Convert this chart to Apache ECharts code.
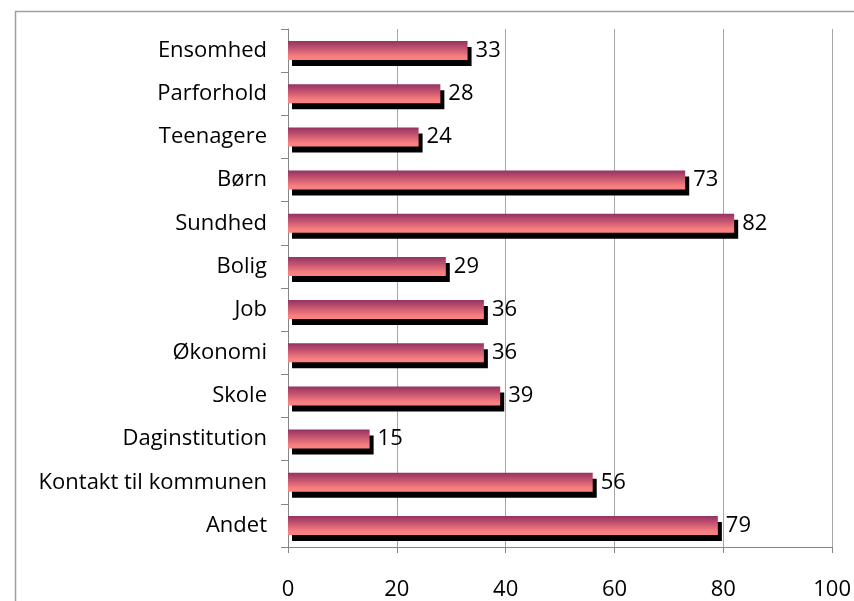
<!DOCTYPE html>
<html>
<head>
<meta charset="utf-8">
<script src="https://cdn.jsdelivr.net/npm/echarts@6/dist/echarts.min.js"></script>
<style>
html,body{margin:0;padding:0;background:#fff;}
#chart{width:854px;height:601px;}
</style>
</head>
<body>
<div id="chart"></div>
<script>
const categories = ["Ensomhed","Parforhold","Teenagere","Børn","Sundhed","Bolig","Job","Økonomi","Skole","Daginstitution","Kontakt til kommunen","Andet"];
const values = [33,28,24,73,82,29,36,36,39,15,56,79];
const xTicks = [0,20,40,60,80,100];

const chart = echarts.init(document.getElementById('chart'), null, {renderer:'canvas'});
const FONT = '"Open Sans", "Noto Sans", sans-serif';
chart.setOption({
  animation:false,
  backgroundColor:'#ffffff',
  graphic:[{type:'rect',shape:{x:15.5,y:11.5,width:900,height:700},style:{fill:'none',stroke:'#a0a0a0',lineWidth:1.5},silent:true}],
  grid:{left:288,top:29,right:21,bottom:54,containLabel:false},
  xAxis:{
    type:'value',min:xTicks[0],max:xTicks[xTicks.length-1],interval:20,
    axisLine:{show:true,lineStyle:{color:'#868686',width:1}},
    axisTick:{show:true,length:6,lineStyle:{color:'#868686'}},
    splitLine:{show:true,lineStyle:{color:'#a6a6a6',width:1}},
    axisLabel:{fontFamily:FONT,fontSize:22,color:'#000',margin:32}
  },
  yAxis:{
    type:'category',data:categories,inverse:true,
    axisLine:{show:true,lineStyle:{color:'#868686',width:1}},
    axisTick:{show:true,length:7,lineStyle:{color:'#868686'}},
    axisLabel:{fontFamily:FONT,fontSize:22,color:'#000',margin:21}
  },
  series:[{
    type:'bar',data:values,barWidth:19,
    itemStyle:{
      color:new echarts.graphic.LinearGradient(0,0,0,1,[
        {offset:0,color:'#943262'},
        {offset:0.45,color:'#cc5a72'},
        {offset:0.8,color:'#f77e7e'},
        {offset:1,color:'#fb8383'}
      ]),
      shadowColor:'#000000',shadowBlur:0,shadowOffsetX:4,shadowOffsetY:6
    },
    label:{show:true,position:'right',distance:8,fontFamily:FONT,fontSize:22,color:'#000'}
  }]
});
</script>
</body>
</html>
